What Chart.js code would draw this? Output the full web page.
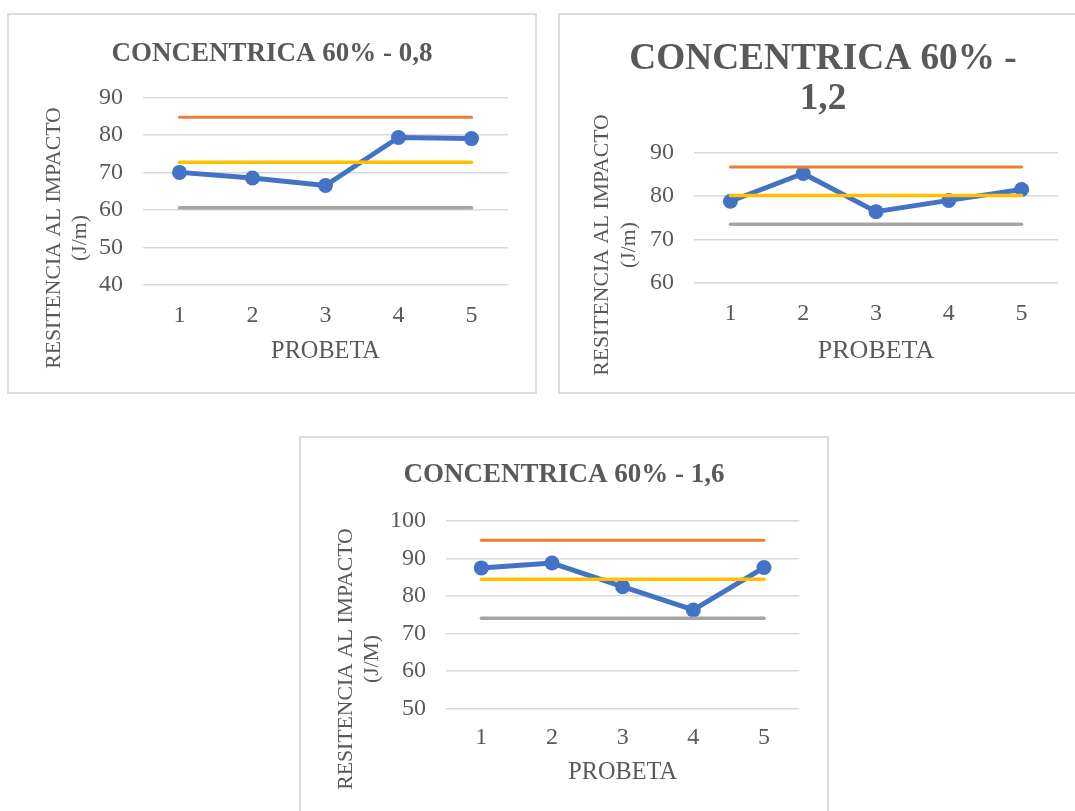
<!DOCTYPE html>
<html>
<head>
<meta charset="utf-8">
<script src="https://cdn.jsdelivr.net/npm/chart.js@4.4.1/dist/chart.umd.min.js"></script>
<style>
  html, body { margin: 0; padding: 0; background: #ffffff; overflow: hidden; width: 1075px; height: 811px; }
  .frame { position: absolute; width: 530px; height: 381px; box-sizing: border-box; border: 2px solid #dcdcdc; }
  canvas { position: absolute; }
</style>
</head>
<body>
<div class="frame" style="left:7px; top:13px;"></div>
<div class="frame" style="left:558px; top:13px;"></div>
<div class="frame" style="left:299px; top:436px;"></div>
<canvas id="c1" width="530" height="381" style="left:7px; top:13px;"></canvas>
<canvas id="c2" width="530" height="381" style="left:558px; top:13px;"></canvas>
<canvas id="c3" width="530" height="381" style="left:299px; top:436px;"></canvas>
<script>
// Specimen numbers on the x axis
const probetas = ['1', '2', '3', '4', '5'];

// Concentric 60% - 0,8
const resist08 = [70.0, 68.5, 66.5, 79.3, 79.0];
const sup08 = [84.7, 84.7, 84.7, 84.7, 84.7];
const media08 = [72.7, 72.7, 72.7, 72.7, 72.7];
const inf08 = [60.6, 60.6, 60.6, 60.6, 60.6];

// Concentric 60% - 1,2
const resist12 = [78.8, 85.2, 76.4, 79.0, 81.5];
const sup12 = [86.7, 86.7, 86.7, 86.7, 86.7];
const media12 = [80.1, 80.1, 80.1, 80.1, 80.1];
const inf12 = [73.5, 73.5, 73.5, 73.5, 73.5];

// Concentric 60% - 1,6
const resist16 = [87.5, 88.8, 82.5, 76.3, 87.6];
const sup16 = [94.9, 94.9, 94.9, 94.9, 94.9];
const media16 = [84.5, 84.5, 84.5, 84.5, 84.5];
const inf16 = [74.1, 74.1, 74.1, 74.1, 74.1];

// Y axis ranges
const yRange08 = [40, 90];
const yRange12 = [60, 90];
const yRange16 = [50, 100];

const FONT = "'Liberation Serif', 'Times New Roman', serif";
const TEXT = '#595959';
const GRID = '#d9d9d9';

// Rotated two-line y axis caption
function sideTitle(lines, xs, y) {
  return {
    id: 'sideTitle',
    afterDraw(chart) {
      const ctx = chart.ctx;
      ctx.save();
      ctx.fillStyle = TEXT;
      ctx.font = '21.7px ' + FONT;
      ctx.textAlign = 'center';
      ctx.textBaseline = 'middle';
      lines.forEach((line, i) => {
        ctx.save();
        ctx.translate(xs[i], y);
        ctx.rotate(-Math.PI / 2);
        ctx.fillText(line, 0, 0);
        ctx.restore();
      });
      ctx.restore();
    }
  };
}

function refLine(data, color, width, order) {
  return {
    data, borderColor: color, backgroundColor: color, borderWidth: width,
    pointRadius: 0, pointHoverRadius: 0, borderCapStyle: 'round', tension: 0, order
  };
}

function makeChart(id, cfg) {
  new Chart(document.getElementById(id), {
    type: 'line',
    data: {
      labels: probetas,
      datasets: [
        refLine(cfg.media, '#FFC000', 3.5, 0),
        refLine(cfg.inf, '#A5A5A5', 3.5, 1),
        refLine(cfg.sup, '#ED7D31', 3, 2),
        {
          data: cfg.values, borderColor: '#4472C4', backgroundColor: '#4472C4',
          borderWidth: 5, pointRadius: 7.5, pointHoverRadius: 7.5, pointBorderWidth: 0,
          borderJoinStyle: 'round', tension: 0, order: 3
        }
      ]
    },
    options: {
      responsive: false,
      animation: false,
      events: [],
      // equal side padding keeps the title centred on the frame
      layout: { padding: { left: cfg.pad, right: cfg.pad, top: 0, bottom: 0 } },
      plugins: {
        legend: { display: false },
        tooltip: { enabled: false },
        title: {
          display: true,
          text: cfg.title,
          color: TEXT,
          font: { family: FONT, size: cfg.titleSize, weight: 'bold', lineHeight: cfg.titleLH },
          padding: { top: cfg.titleTop, bottom: cfg.titleBottom }
        }
      },
      scales: {
        x: {
          offset: true,
          grid: { display: false, drawTicks: false },
          border: { display: false },
          ticks: { color: TEXT, font: { family: FONT, size: 24, lineHeight: 1.2 }, padding: cfg.xTickPad },
          title: {
            display: true, text: 'PROBETA', color: TEXT,
            font: { family: FONT, size: cfg.xTitleSize, lineHeight: 1.2 },
            padding: { top: 0, bottom: cfg.xTitlePad }
          },
          afterFit(scale) { scale.height = cfg.xHeight; }
        },
        y: {
          min: cfg.yRange[0], max: cfg.yRange[1],
          grid: { color: GRID, lineWidth: 1.5, drawTicks: false },
          border: { display: false },
          ticks: { stepSize: 10, color: TEXT, font: { family: FONT, size: 24 }, padding: 20 },
          afterFit(scale) { scale.width = cfg.yWidth - cfg.pad; }
        }
      }
    },
    plugins: [sideTitle(cfg.side, cfg.sideX, cfg.sideY)]
  });
}

makeChart('c1', {
  values: resist08, sup: sup08, media: media08, inf: inf08, yRange: yRange08,
  title: 'CONCENTRICA 60% - 0,8', titleSize: 27, titleLH: 1.2, titleTop: 24.8, titleBottom: 27.1,
  pad: 29, yWidth: 136, xHeight: 109, xTickPad: 16.6, xTitleSize: 24.3, xTitlePad: 27.6,
  side: ['RESITENCIA AL IMPACTO', '(J/m)'], sideX: [47, 73], sideY: 225
});

makeChart('c2', {
  values: resist12, sup: sup12, media: media12, inf: inf12, yRange: yRange12,
  title: ['CONCENTRICA 60% -', '1,2'], titleSize: 37.3, titleLH: 1.086, titleTop: 25.75, titleBottom: 32.95,
  pad: 30, yWidth: 136, xHeight: 111.3, xTickPad: 16.9, xTitleSize: 26, xTitlePad: 27.4,
  side: ['RESITENCIA AL IMPACTO', '(J/m)'], sideX: [44, 71], sideY: 232
});

makeChart('c3', {
  values: resist16, sup: sup16, media: media16, inf: inf16, yRange: yRange16,
  title: 'CONCENTRICA 60% - 1,6', titleSize: 27, titleLH: 1.2, titleTop: 22.8, titleBottom: 29.8,
  pad: 29.7, yWidth: 147, xHeight: 108.3, xTickPad: 14.9, xTitleSize: 24.3, xTitlePad: 29.6,
  side: ['RESITENCIA AL IMPACTO', '(J/M)'], sideX: [47, 73], sideY: 223
});
</script>
</body>
</html>
